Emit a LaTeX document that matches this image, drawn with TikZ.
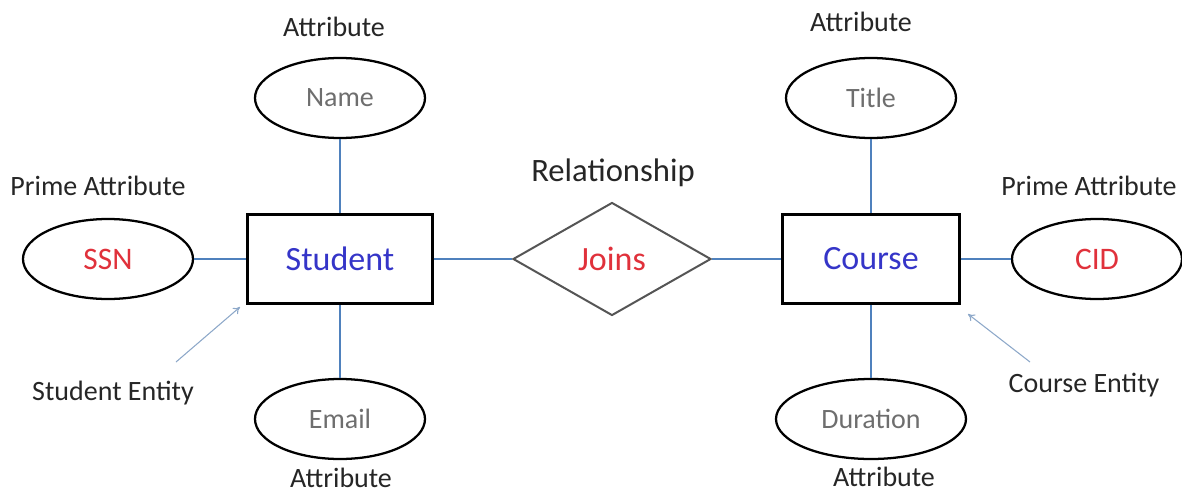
\documentclass[tikz,border=0pt]{standalone}
\usepackage{fontspec}
\setmainfont{Carlito}
\usetikzlibrary{shapes.geometric,arrows.meta}
\definecolor{linkblue}{HTML}{4F81BD}
\definecolor{pointerblue}{HTML}{8DA8C9}
\definecolor{entityblue}{HTML}{3535C8}
\definecolor{keyred}{HTML}{E0313B}
\definecolor{attrgray}{HTML}{6E6E6E}
\definecolor{labelgray}{HTML}{262626}
\definecolor{diamondgray}{HTML}{555555}
\begin{document}
\begin{tikzpicture}[x=0.75pt,y=-0.75pt,
  attr/.style={ellipse, draw=black, line width=1.7pt, inner sep=0pt,
    minimum width=127.5pt, minimum height=60pt,
    font=\fontsize{21}{24}\selectfont, text=attrgray},
  keyattr/.style={attr, font=\fontsize{23.5}{26}\selectfont, text=keyred},
  entity/.style={rectangle, draw=black, line width=1.7pt, inner sep=0pt,
    minimum width=138.75pt, minimum height=66.75pt,
    font=\fontsize{25.5}{28}\selectfont, text=entityblue},
  relation/.style={diamond, draw=diamondgray, line width=1.5pt, inner sep=0pt,
    minimum width=148.5pt, minimum height=84.75pt,
    font=\fontsize{25.5}{28}\selectfont, text=keyred},
  caption/.style={font=\fontsize{21}{24}\selectfont, text=labelgray},
  link/.style={draw=linkblue, line width=1.7pt},
  pointer/.style={draw=pointerblue, line width=0.8pt, -{To[length=5pt,width=6pt]}}
]
\useasboundingbox (0,0) rectangle (1182,493);

% entities and relationship
\node[entity] (student) at (340,259) {Student};
\node[entity, minimum width=132.75pt] (course) at (871,259) {Course};
\node[relation] (joins) at (612,259) {Joins};

% attributes
\node[attr] (name) at (340,98) {Name};
\node[attr] (email) at (340,419) {Email};
\node[keyattr] (ssn) at (108,259) {SSN};
\node[attr] (title) at (871,98) {Title};
\node[attr, minimum width=142.5pt] (duration) at (871,419) {Duration};
\node[keyattr] (cid) at (1097,259) {CID};

% connectors
\draw[link] (name) -- (student);
\draw[link] (email) -- (student);
\draw[link] (ssn) -- (student);
\draw[link] (student) -- (joins);
\draw[link] (joins) -- (course);
\draw[link] (course) -- (cid);
\draw[link] (title) -- (course);
\draw[link] (duration) -- (course);

% captions
\node[caption] (capname) at (334,27) {Attribute};
\node[caption] (captitle) at (861,22) {Attribute};
\node[caption] (capemail) at (341,478) {Attribute};
\node[caption] (capduration) at (884,477) {Attribute};
\node[caption] (capssn) at (98,186) {Prime Attribute};
\node[caption] (capcid) at (1089,186) {Prime Attribute};
\node[caption, font=\fontsize{24.5}{28}\selectfont] (caprel) at (613,173) {Relationship};
\node[caption] (capstudent) at (113,393) {Student Entity};
\node[caption] (capcourse) at (1084,385) {Course Entity};

% pointers to the entities
\coordinate (ps) at (176,362);
\coordinate (psh) at (240,307);
\coordinate (pc) at (1030,362);
\coordinate (pch) at (968,314);
\draw[pointer] (ps) -- (psh);
\draw[pointer] (pc) -- (pch);
\end{tikzpicture}
\end{document}
